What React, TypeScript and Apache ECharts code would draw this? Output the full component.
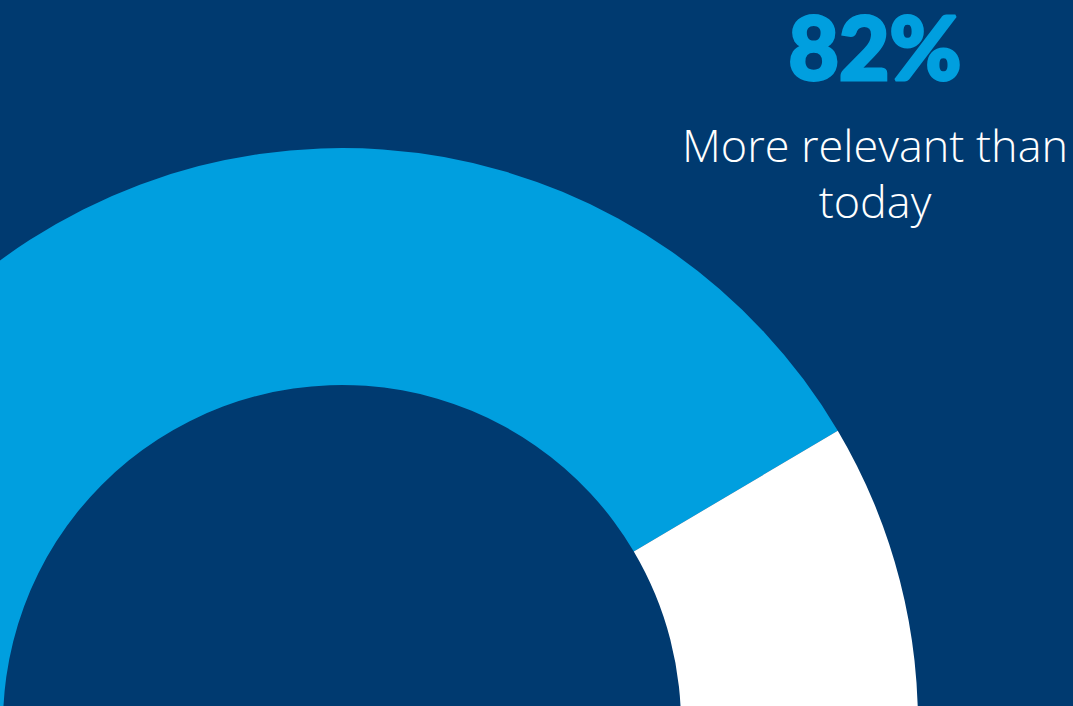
import React, { useEffect, useRef } from "react";
import * as echarts from "echarts";

const categories = ["More relevant than today", "Other"];
const values = [82, 18];
const headline = "82%";
const captionLines = ["More relevant than", "today"];

export default function App() {
  const ref = useRef<HTMLDivElement>(null);
  useEffect(() => {
    document.body.style.margin = "0";
    const chart = echarts.init(ref.current!, null, { renderer: "svg" });
    chart.setOption({
      animation: false,
      backgroundColor: "#003a70",
      series: [
        {
          type: "pie",
          center: [342, 724],
          radius: [339, 576],
          startAngle: 325.8,
          clockwise: true,
          silent: true,
          label: { show: false },
          labelLine: { show: false },
          itemStyle: { borderWidth: 0 },
          data: categories.map((c, i) => ({
            name: c,
            value: values[i],
            itemStyle: { color: i === 0 ? "#009fdf" : "#ffffff" },
          })),
        },
      ],
      graphic: [
        {
          type: "text",
          x: 875,
          y: 46,
          style: {
            text: headline,
            fill: "#009fdf",
            stroke: "#009fdf",
            lineWidth: 3,
            font: "900 87px Lato, 'Noto Sans', sans-serif",
            textAlign: "center",
            textVerticalAlign: "middle",
          },
        },
        {
          type: "text",
          x: 875,
          y: 144,
          style: {
            text: captionLines[0],
            fill: "#ffffff",
            font: "300 45px 'Open Sans', Lato, sans-serif",
            textAlign: "center",
            textVerticalAlign: "middle",
          },
        },
        {
          type: "text",
          x: 875,
          y: 200,
          style: {
            text: captionLines[1],
            fill: "#ffffff",
            font: "300 45px 'Open Sans', Lato, sans-serif",
            textAlign: "center",
            textVerticalAlign: "middle",
          },
        },
      ],
    });
    return () => chart.dispose();
  }, []);
  return <div ref={ref} style={{ position: "fixed", left: 0, top: 0, width: 1073, height: 706 }} />;
}
